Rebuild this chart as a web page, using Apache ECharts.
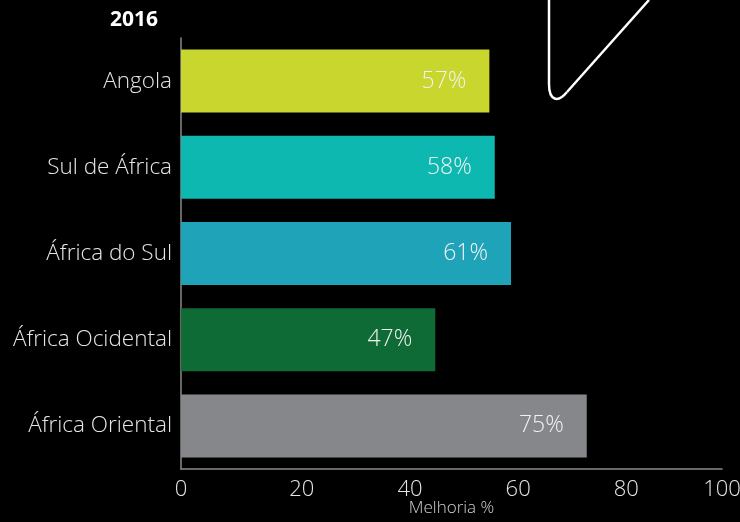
<!DOCTYPE html>
<html>
<head>
<meta charset="utf-8">
<script src="https://cdn.jsdelivr.net/npm/echarts@6/dist/echarts.min.js"></script>
<style>
  html, body { margin: 0; padding: 0; background: #000; }
  #chart { width: 740px; height: 522px; }
</style>
</head>
<body>
<div id="chart"></div>
<script>
// dados
const categories = ['Angola', 'Sul de África', 'África do Sul', 'África Ocidental', 'África Oriental'];
const values = [57, 58, 61, 47, 75];
const barColors = ['#c8d62e', '#0db8b0', '#1fa3b8', '#0f6b35', '#86878b'];
const xTicks = [0, 20, 40, 60, 80, 100];

const chart = echarts.init(document.getElementById('chart'));
const font = '"Open Sans", "Noto Sans", sans-serif';
const curveStyle = { stroke: '#fff', lineWidth: 2.5, fill: 'none' };

const option = {
  backgroundColor: '#000',
  animation: false,
  grid: { left: 181, right: 18, top: 38, height: 431, containLabel: false, outerBoundsMode: 'none' },
  xAxis: {
    type: 'value',
    min: xTicks[0],
    max: xTicks[xTicks.length - 1],
    interval: 20,
    name: 'Melhoria %',
    nameLocation: 'middle',
    nameGap: 31,
    nameMoveOverlap: false,
    nameTextStyle: { color: '#d0d0d0', fontSize: 17, fontFamily: font, fontWeight: 300 },
    axisLine: { show: true, lineStyle: { color: '#8a8a8a', width: 1.5 } },
    axisTick: { show: false },
    splitLine: { show: false },
    axisLabel: {
      color: '#e6e6e6',
      fontSize: 22,
      fontFamily: font,
      fontWeight: 300,
      margin: 10,
      align: 'left',
      alignMinLabel: 'center',
      alignMaxLabel: 'center'
    }
  },
  yAxis: {
    type: 'category',
    data: categories,
    inverse: true,
    axisLine: { show: true, lineStyle: { color: '#8a8a8a', width: 1.5 } },
    axisTick: { show: false },
    axisLabel: { color: '#e6e6e6', fontSize: 22.5, fontFamily: font, fontWeight: 300, margin: 9, padding: [4, 0, 0, 0] }
  },
  series: [{
    type: 'bar',
    barWidth: 63,
    data: values.map((v, i) => ({ value: v, itemStyle: { color: barColors[i] } })),
    label: {
      show: true,
      position: 'insideRight',
      distance: 23,
      formatter: '{c}%',
      color: '#f2f2f2',
      fontSize: 23,
      fontFamily: font,
      fontWeight: 300,
      padding: [4, 0, 0, 0]
    }
  }],
  graphic: [
    {
      type: 'text',
      x: 110,
      y: 10,
      style: { text: '2016', fill: '#fff', font: 'bold 21px ' + font }
    },
    // traço decorativo no canto superior
    { type: 'line', shape: { x1: 549, y1: 0, x2: 549, y2: 84 }, style: curveStyle },
    { type: 'bezierCurve', shape: { x1: 549, y1: 84, cpx1: 549, cpy1: 101, cpx2: 558, cpy2: 103, x2: 567, y2: 92 }, style: curveStyle },
    { type: 'line', shape: { x1: 567, y1: 92, x2: 649, y2: 0 }, style: curveStyle }
  ]
};

chart.setOption(option);
</script>
</body>
</html>
